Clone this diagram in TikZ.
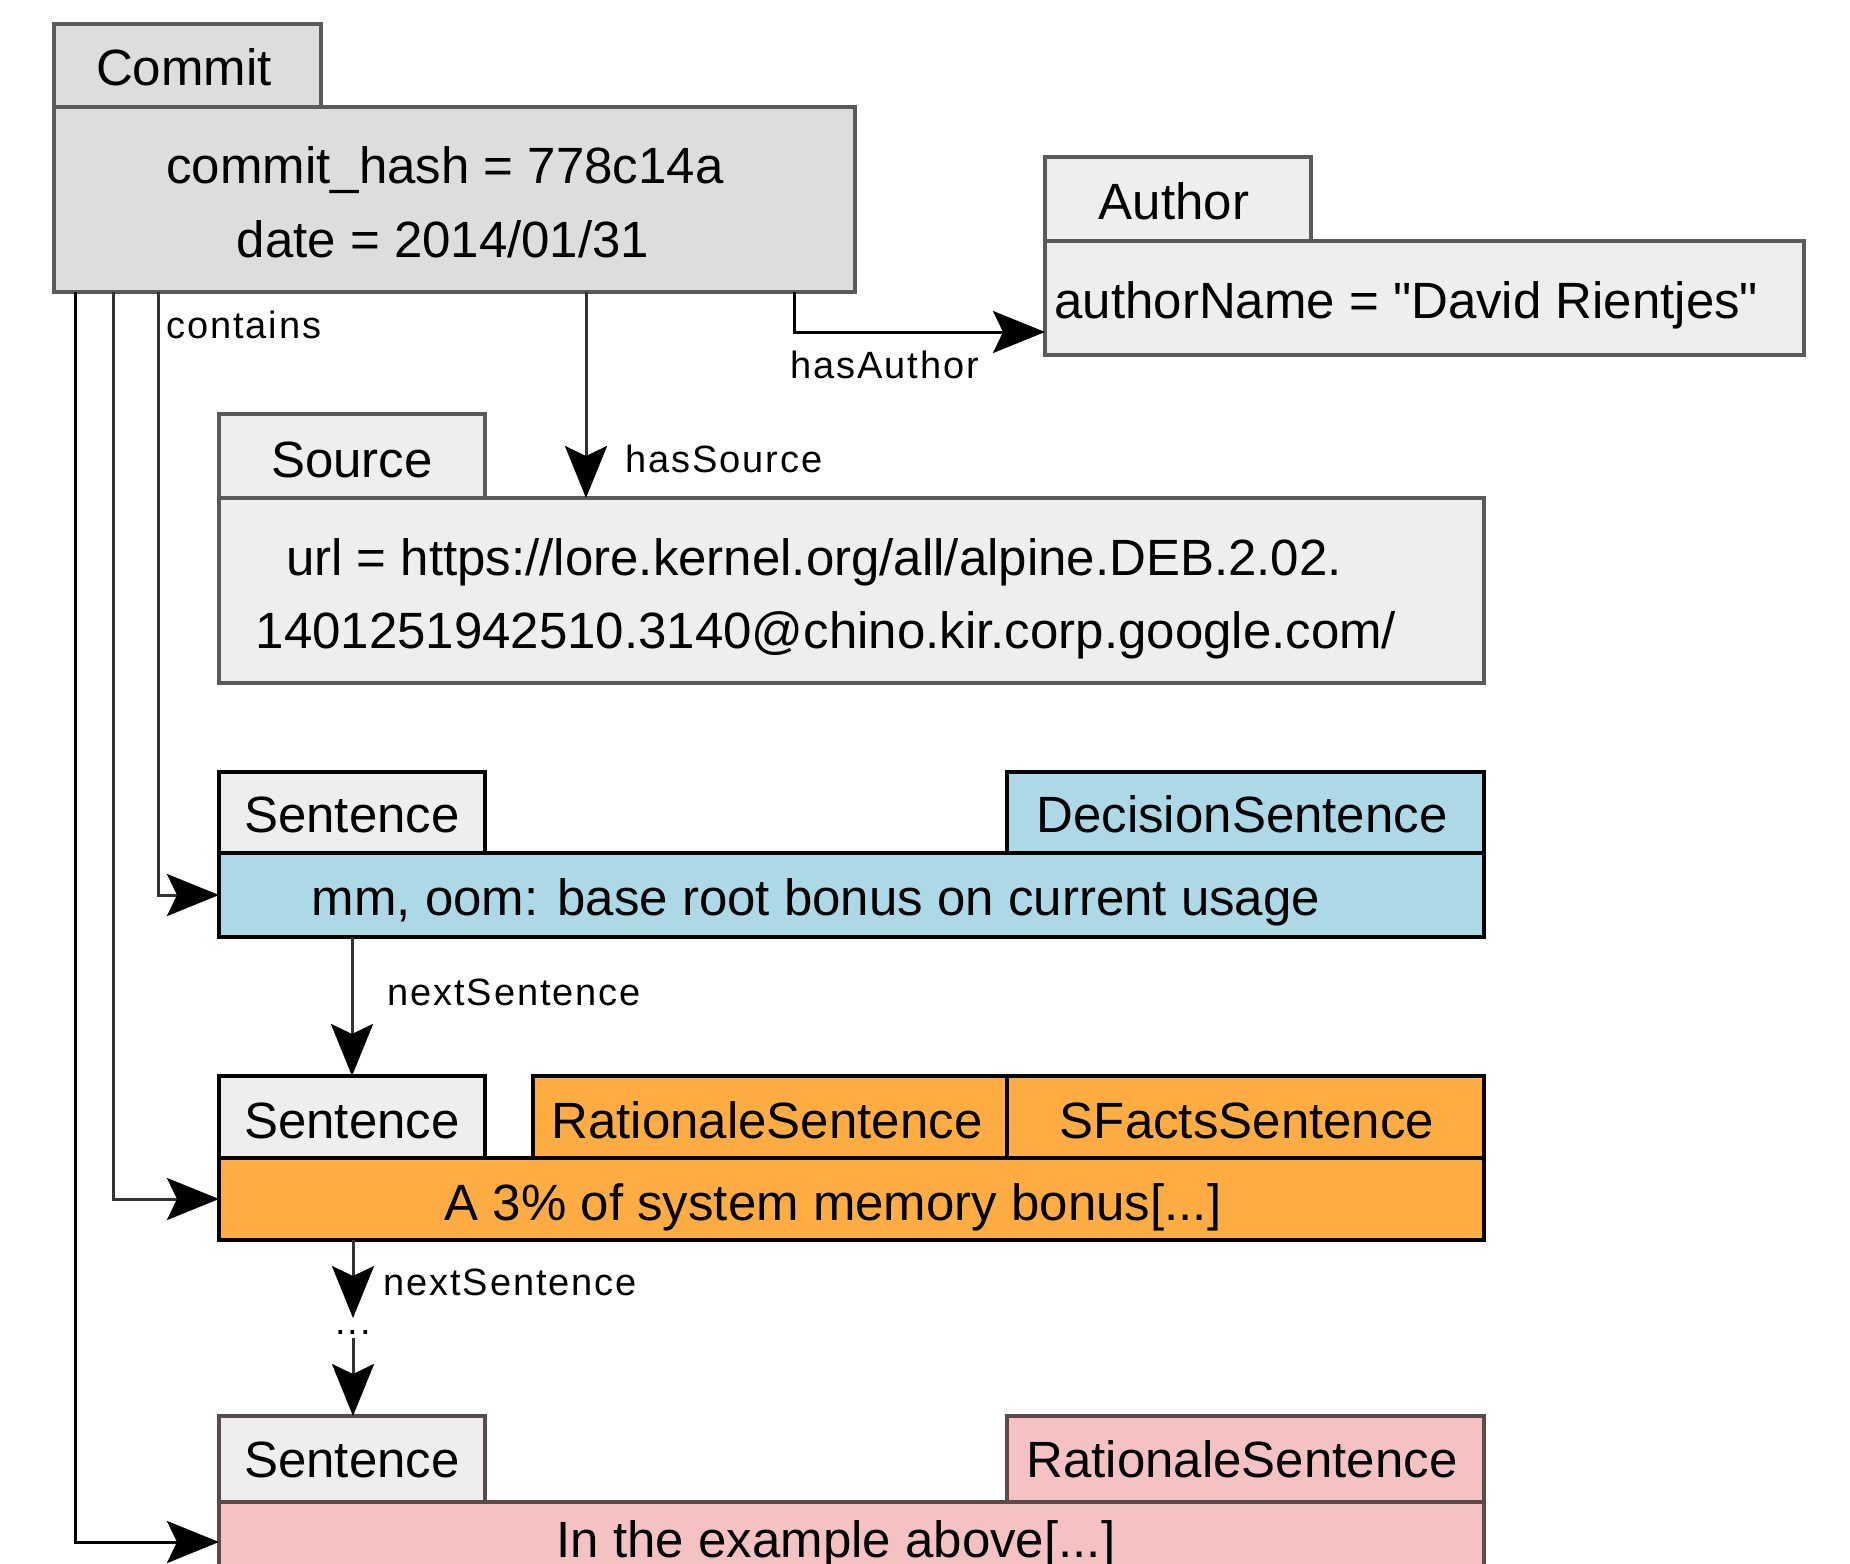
\documentclass[tikz,border=0pt]{standalone}
\usepackage{fontspec}
\setmainfont{Liberation Sans}[Ligatures=TeXOff]
\newfontfamily\lblfamily{Liberation Sans}[Ligatures=TeXOff, LetterSpace=5]
\usetikzlibrary{arrows.meta}
\definecolor{cgray}{HTML}{DDDDDD}
\definecolor{lgray}{HTML}{EEEEEE}
\definecolor{lblue}{HTML}{ADD8E6}
\definecolor{orng}{HTML}{FFAD42}
\definecolor{pinkc}{HTML}{F4C2C2}
\definecolor{bord}{HTML}{5A5A5A}
\definecolor{pbord}{HTML}{5A4A4A}
\definecolor{lineg}{HTML}{333333}
\newcommand\bigfont{\fontsize{25.5pt}{30pt}\selectfont}
\newcommand\lblfont{\lblfamily\fontsize{19pt}{23pt}\selectfont}
\newcommand\mkbox[6]{\node[#6, anchor=north west, minimum width={(#4-#2)*0.5pt}, minimum height={(#5-#3)*0.5pt}] (#1) at (#2,#3) {};}
\tikzset{
  box/.style={rectangle, draw=bord, line width=2pt, inner sep=0pt, outer sep=0pt},
  cbox/.style={box, fill=cgray},
  gbox/.style={box, fill=lgray},
  gkbox/.style={box, fill=lgray, draw=black},
  gpbox/.style={box, fill=lgray, draw=pbord},
  bbox/.style={box, fill=lblue, draw=black},
  obox/.style={box, fill=orng, draw=black},
  pkbox/.style={box, fill=pinkc, draw=pbord},
  big/.style={font=\bigfont, inner sep=0pt, anchor=base},
  bigw/.style={font=\bigfont, inner sep=0pt, anchor=base west},
  lbl/.style={font=\lblfont, inner sep=0pt, anchor=base west},
  conn/.style={line width=1.5pt, draw=lineg, -{Stealth[length=26pt,width=21pt,inset=5pt,color=black]}},
}
\begin{document}
\begin{tikzpicture}[x=0.5pt, y=-0.5pt]
\useasboundingbox (0,0) rectangle (1850,1563);
\clip (0,0) rectangle (1850,1563);
\fill[white] (0,0) rectangle (1850,1563);
% boxes
\mkbox{commitBody}{54}{107}{855}{292}{cbox}
\mkbox{commitTab}{54}{24}{321}{107}{cbox}
\mkbox{authorBody}{1045}{241}{1804}{355}{gbox}
\mkbox{authorTab}{1045}{157}{1311}{241}{gbox}
\mkbox{srcBody}{219}{498}{1484}{683}{gbox}
\mkbox{srcTab}{219}{414}{485}{498}{gbox}
\mkbox{sOneBody}{219}{853}{1484}{937}{bbox}
\mkbox{sOneTab}{219}{772}{485}{853}{gkbox}
\mkbox{decTab}{1007}{772}{1484}{853}{bbox}
\mkbox{sTwoBody}{219}{1158}{1484}{1240}{obox}
\mkbox{sTwoTab}{219}{1076}{485}{1158}{gkbox}
\mkbox{ratTab}{533}{1076}{1007}{1158}{obox}
\mkbox{sfTab}{1007}{1076}{1484}{1158}{obox}
\mkbox{sThreeBody}{219}{1502}{1484}{1582}{pkbox}
\mkbox{sThreeTab}{219}{1416}{485}{1502}{gpbox}
\mkbox{ratTwoTab}{1007}{1416}{1484}{1502}{pkbox}
% texts
\node[big] (tCommit) at (184,85) {Commit};
\node[big] (tHash) at (445,183) {commit\_hash = 778c14a};
\node[big] (tDate) at (443,257) {date = 2014/01/31};
\node[big] (tAuthor) at (1174,219) {Author};
\node[bigw] (tAName) at (1054,318) {authorName = "David Rientjes"};
\node[big] (tSource) at (352,477) {Source};
\node[big] (tUrlA) at (814,575) {url = https://lore.kernel.org/all/alpine.DEB.2.02.};
\node[big] (tUrlB) at (826,648) {1401251942510.3140@chino.kir.corp.google.com/};
\node[big] (tSOne) at (352,832) {Sentence};
\node[big] (tDec) at (1242,832) {DecisionSentence};
\node[big] (tSOneText) at (816,915) {mm, oom: base root bonus on current usage};
\node[big] (tSTwo) at (352,1138) {Sentence};
\node[big] (tRat) at (767,1138) {RationaleSentence};
\node[big] (tSF) at (1247,1138) {SFactsSentence};
\node[big] (tSTwoText) at (833,1220) {A 3\% of system memory bonus[...]};
\node[big] (tSThree) at (352,1477) {Sentence};
\node[big] (tRatTwo) at (1242,1477) {RationaleSentence};
\node[big] (tSThreeText) at (836,1557) {In the example above[...]};
% connector coordinates
\coordinate (hsx) at (586,0);
\coordinate (hax) at (794,0);
\coordinate (hay) at (0,332);
\coordinate (cAx) at (158,0);
\coordinate (cBx) at (113,0);
\coordinate (cCx) at (75,0);
\coordinate (dotsTop) at (353,1318);
\coordinate (dotsBot) at (353,1338);
% connectors
\draw[conn] (commitBody.south -| hsx) -- (srcBody.north -| hsx);
\draw[conn, draw=black] (commitBody.south -| hax) |- (authorBody.west |- hay);
\draw[conn] (commitBody.south -| cAx) |- (sOneBody.west);
\draw[conn] (commitBody.south -| cBx) |- (sTwoBody.west);
\draw[conn, draw=black] (commitBody.south -| cCx) |- (sThreeBody.west);
\draw[conn] (sOneBody.south -| sTwoTab.north) -- (sTwoTab.north);
\draw[conn] (sTwoBody.south -| dotsTop) -- (dotsTop);
\draw[conn] (dotsBot) -- (sThreeTab.north -| dotsBot);
% labels
\node[lbl] (lContains) at (166,338) {contains};
\node[lbl] (lHasAuthor) at (790,378) {hasAuthor};
\node[lbl] (lHasSource) at (625,472) {hasSource};
\node[lbl] (lNextA) at (387,1005) {nextSentence};
\node[lbl] (lNextB) at (383,1295) {nextSentence};
\node[lbl, anchor=base] (lDots) at (353,1334) {...};
\end{tikzpicture}
\end{document}
